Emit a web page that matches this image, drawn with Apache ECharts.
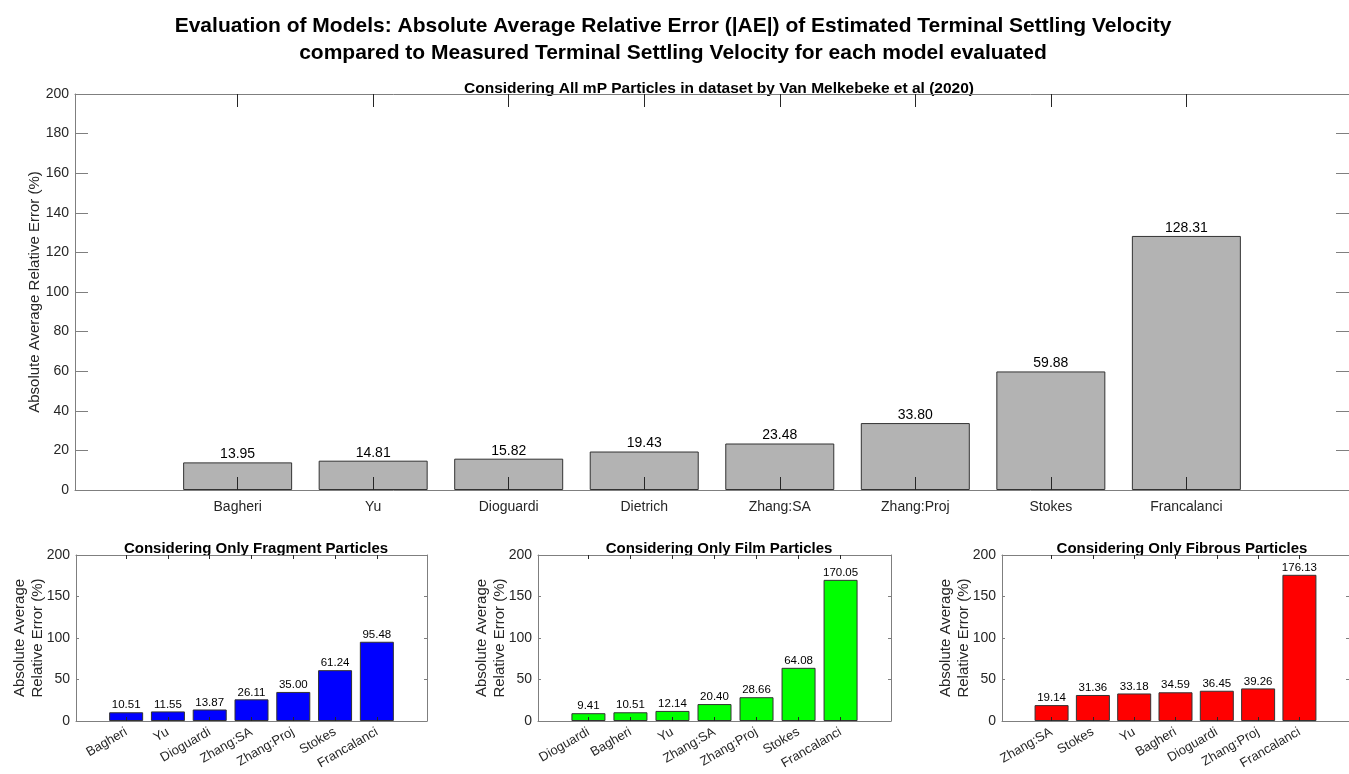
<!DOCTYPE html>
<html><head><meta charset="utf-8">
<script src="https://cdn.jsdelivr.net/npm/echarts@6/dist/echarts.min.js"></script>
<style>html,body{margin:0;padding:0;background:#fff}#c{width:1349px;height:774px}</style>
</head><body><div id="c"></div>
<script>
const topCats = ['Bagheri','Yu','Dioguardi','Dietrich','Zhang:SA','Zhang:Proj','Stokes','Francalanci'];
const topVals = [13.95,14.81,15.82,19.43,23.48,33.80,59.88,128.31];
const fragCats = ['Bagheri','Yu','Dioguardi','Zhang:SA','Zhang:Proj','Stokes','Francalanci'];
const fragVals = [10.51,11.55,13.87,26.11,35.00,61.24,95.48];
const filmCats = ['Dioguardi','Bagheri','Yu','Zhang:SA','Zhang:Proj','Stokes','Francalanci'];
const filmVals = [9.41,10.51,12.14,20.40,28.66,64.08,170.05];
const fibCats = ['Zhang:SA','Stokes','Yu','Bagheri','Dioguardi','Zhang:Proj','Francalanci'];
const fibVals = [19.14,31.36,33.18,34.59,36.45,39.26,176.13];
const topYTicks = [0,20,40,60,80,100,120,140,160,180,200];
const botYTicks = [0,50,100,150,200];

const mainTitle = 'Evaluation of Models: Absolute Average Relative Error (|AE|) of Estimated Terminal Settling Velocity\ncompared to Measured Terminal Settling Velocity for each model evaluated';
const panelTitles = ['Considering All mP Particles in dataset by Van Melkebeke et al (2020)','Considering Only Fragment Particles','Considering Only Film Particles','Considering Only Fibrous Particles'];
const yNameTop = 'Absolute Average Relative Error (%)';
const yNameBot = 'Absolute Average\nRelative Error (%)';

const FONT = '"Liberation Sans", Arial, Helvetica, sans-serif';
const AXC = '#7f7f7f';
const TXT = '#262626';

const panels = [
  {cats: topCats, vals: topVals, ticks: topYTicks, color:'#b3b3b3', grid:{left:75, top:94, width:1278, height:396}, xTick:13, yTick:13, bw:109, rot:0, lblSize:14, yName:yNameTop, nameGap:31},
  {cats: fragCats, vals: fragVals, ticks: botYTicks, color:'#0000ff', grid:{left:76, top:555, width:351, height:166}, xTick:4, yTick:3, bw:34, rot:30, lblSize:11.5, yName:yNameBot, nameGap:29},
  {cats: filmCats, vals: filmVals, ticks: botYTicks, color:'#00ff00', grid:{left:538, top:555, width:353, height:166}, xTick:4, yTick:3, bw:34, rot:30, lblSize:11.5, yName:yNameBot, nameGap:29},
  {cats: fibCats, vals: fibVals, ticks: botYTicks, color:'#ff0000', grid:{left:1002, top:555, width:351, height:166}, xTick:4, yTick:3, bw:34, rot:30, lblSize:11.5, yName:yNameBot, nameGap:29}
];

const grids = [], xAxes = [], yAxes = [], series = [];
panels.forEach((p, i) => {
  grids.push(Object.assign({containLabel:false}, p.grid));
  const n = p.cats.length;
  const pos = p.cats.map((_, k) => k + 1);
  const xmax = n + 1.2;
  const yTop = p.ticks[p.ticks.length - 1];
  const yStep = p.ticks[1] - p.ticks[0];
  xAxes.push({
    type:'value', gridIndex:i, position:'bottom', min:-0.2, max:xmax, z:10,
    axisLine:{show:true, onZero:false, lineStyle:{color:AXC, width:1}},
    axisTick:{show:true, inside:true, length:p.xTick, customValues:pos, lineStyle:{color:'#262626'}},
    axisLabel:{show:true, customValues:pos, rotate:p.rot, margin:10, color:TXT, fontFamily:FONT, fontSize:p.rot ? 13 : 14,
      formatter: v => p.cats[Math.round(v) - 1] || ''},
    splitLine:{show:false}
  });
  xAxes.push({
    type:'value', gridIndex:i, position:'top', min:-0.2, max:xmax, z:10,
    axisLine:{show:true, onZero:false, lineStyle:{color:AXC, width:1}},
    axisTick:{show:true, inside:true, length:p.xTick, customValues:pos, lineStyle:{color:'#262626'}},
    axisLabel:{show:false}, splitLine:{show:false}
  });
  yAxes.push({
    type:'value', gridIndex:i, position:'left', min:0, max:yTop, interval:yStep, z:10,
    axisLine:{show:true, onZero:false, lineStyle:{color:AXC, width:1}},
    axisTick:{show:true, inside:true, length:p.yTick, lineStyle:{color:AXC}},
    axisLabel:{color:TXT, fontFamily:FONT, fontSize:14, margin:6},
    splitLine:{show:false},
    name:p.yName, nameLocation:'middle', nameGap:p.nameGap, nameRotate:90, nameMoveOverlap:false,
    nameTextStyle:{color:TXT, fontFamily:FONT, fontSize:15, lineHeight:18}
  });
  yAxes.push({
    type:'value', gridIndex:i, position:'right', min:0, max:yTop, interval:yStep, z:10,
    axisLine:{show:true, onZero:false, lineStyle:{color:AXC, width:1}},
    axisTick:{show:true, inside:true, length:p.yTick, lineStyle:{color:AXC}},
    axisLabel:{show:false}, splitLine:{show:false}
  });
  series.push({
    type:'bar', xAxisIndex:2*i, yAxisIndex:2*i, barWidth:p.bw, z:2,
    data: p.vals.map((v, k) => [pos[k], v]),
    itemStyle:{color:p.color, borderColor:'#333333', borderWidth:1},
    label:{show:true, position:'top', distance:1, color:'#000', fontFamily:FONT, fontSize:p.lblSize,
      formatter: q => q.value[1].toFixed(2)},
    silent:true, animation:false
  });
});

const titles = [
  {text: mainTitle, left:668, top:8, textAlign:'center',
   textStyle:{fontFamily:FONT, fontSize:21, fontWeight:'bold', color:'#000', lineHeight:27}},
  {text: panelTitles[0], left:714, top:76, textAlign:'center', textStyle:{fontFamily:FONT, fontSize:15.5, fontWeight:'bold', color:'#000'}},
  {text: panelTitles[1], left:251, top:536, textAlign:'center', textStyle:{fontFamily:FONT, fontSize:15, fontWeight:'bold', color:'#000'}},
  {text: panelTitles[2], left:714, top:536, textAlign:'center', textStyle:{fontFamily:FONT, fontSize:15, fontWeight:'bold', color:'#000'}},
  {text: panelTitles[3], left:1177, top:536, textAlign:'center', textStyle:{fontFamily:FONT, fontSize:15, fontWeight:'bold', color:'#000'}}
];

const chart = echarts.init(document.getElementById('c'), null, {renderer:'canvas'});
chart.setOption({
  backgroundColor:'#ffffff',
  animation:false,
  title: titles,
  grid: grids,
  xAxis: xAxes,
  yAxis: yAxes,
  series: series
});
</script>
</body></html>
